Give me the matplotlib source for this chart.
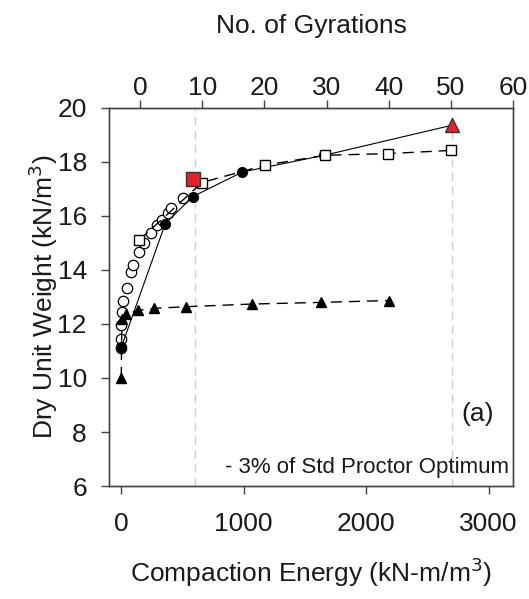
import matplotlib
matplotlib.use('Agg')
import matplotlib.pyplot as plt

plt.rcParams['font.family'] = ['Liberation Sans', 'DejaVu Sans']

# ---- data ----
oc_energy = [0, 0, 0, 3, 11, 44, 82, 93, 148, 189, 243, 293, 330, 379, 407, 503]
oc_unitwt = [11.1, 11.46, 11.95, 12.45, 12.85, 13.35, 13.93, 14.2, 14.65, 15.0, 15.36, 15.67, 15.85, 16.1, 16.3, 16.68]

fc_energy = [0, 360, 585, 990, 1660, 2700]
fc_unitwt = [11.13, 15.72, 16.72, 17.63, 18.25, 19.36]

sq_energy = [148, 659, 1173, 1665, 2180, 2690]
sq_unitwt = [15.11, 17.24, 17.88, 18.25, 18.31, 18.43]

tr_energy = [0, 5, 40, 134, 265, 530, 1072, 1632, 2190]
tr_unitwt = [10.0, 12.17, 12.36, 12.5, 12.58, 12.64, 12.74, 12.8, 12.87]

red_sq_energy = [590]
red_sq_unitwt = [17.36]
red_tr_energy = [2700]
red_tr_unitwt = [19.36]

ref_lines = [600, 2700]

bottom_ticks = [0, 1000, 2000, 3000]
left_ticks = [6, 8, 10, 12, 14, 16, 18, 20]
top_ticks = [0, 10, 20, 30, 40, 50, 60]

# ---- figure ----
fig = plt.figure(figsize=(5.29, 5.99), dpi=100)
ax = fig.add_axes([109/529, 1 - 486/599, (513-109)/529, (486-108)/599])

fs = 19
spine_c = '#444444'
txt_c = '#1a1a1a'

for xv in ref_lines:
    ax.axvline(xv, color='#cfcfcf', lw=1.0, ls=(0, (6, 4)), zorder=1)

ax.plot(tr_energy, tr_unitwt, color='black', lw=1.0, ls=(0, (8, 5)),
        marker='^', ms=7, mfc='black', mec='black', zorder=3)
ax.plot(sq_energy, sq_unitwt, color='black', lw=1.0, ls=(0, (8, 5)),
        marker='s', ms=7, mfc='white', mec='black', mew=1.0, zorder=4)
ax.plot(fc_energy[:-1], fc_unitwt[:-1], color='black', lw=0.8, ls='-',
        marker='o', ms=7, mfc='black', mec='black', zorder=3)
ax.plot(fc_energy[-2:], fc_unitwt[-2:], color='black', lw=0.8, ls='-', zorder=3)
ax.plot(oc_energy, oc_unitwt, ls='none', marker='o', ms=7.5,
        mfc='white', mec='black', mew=0.9, zorder=2)

ax.plot(red_sq_energy, red_sq_unitwt, ls='none', marker='s', ms=9.5,
        mfc='#e8202a', mec='#333333', mew=1.0, zorder=6)
ax.plot(red_tr_energy, red_tr_unitwt, ls='none', marker='^', ms=10.5,
        mfc='#e8202a', mec='#333333', mew=1.0, zorder=6)

ax.set_xlim(-100, 3200)
ax.set_ylim(6, 20)
ax.set_xticks(bottom_ticks)
ax.set_yticks(left_ticks)
ax.tick_params(axis='x', direction='out', length=6, width=1, color=spine_c,
               labelsize=fs, pad=13, labelcolor=txt_c)
ax.tick_params(axis='y', direction='out', length=6, width=1, color=spine_c,
               labelsize=fs, pad=10, labelcolor=txt_c)
for s in ax.spines.values():
    s.set_color(spine_c)
    s.set_linewidth(1.0)

ax.set_xlabel('Compaction Energy (kN-m/m$^3$)', fontsize=fs, labelpad=14, color=txt_c)
ax.set_ylabel('Dry Unit Weight (kN/m$^3$)', fontsize=fs, labelpad=-2, color=txt_c)

ax.text(2912, 8.65, '(a)', fontsize=fs, ha='center', va='center', color=txt_c)
ax.text(3170, 6.7, '- 3% of Std Proctor Optimum', fontsize=16,
        ha='right', va='center', color=txt_c)

ax2 = ax.twiny()
ax2.set_xlim(-5, 60)
ax2.set_xticks(top_ticks)
ax2.tick_params(axis='x', direction='out', length=6, width=1, color=spine_c,
                labelsize=fs, pad=0, labelcolor=txt_c)
ax2.set_xlabel('No. of Gyrations', fontsize=fs, labelpad=31, color=txt_c)
for s in ax2.spines.values():
    s.set_color(spine_c)
    s.set_linewidth(1.0)

fig.savefig('out.png', dpi=100)
